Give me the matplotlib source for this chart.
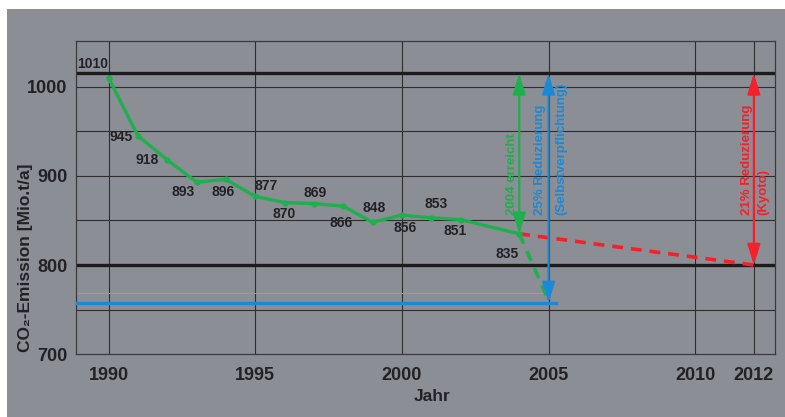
import matplotlib.pyplot as plt
from matplotlib.patches import Rectangle

plt.rcParams['font.family'] = ['Liberation Sans Narrow', 'Liberation Sans', 'DejaVu Sans']

# CO2 emissions in Germany (Mio. t/a)
years = [1990, 1991, 1992, 1993, 1994, 1995, 1996, 1997, 1998, 1999, 2000, 2001, 2002, 2004]
emissions = [1010, 945, 918, 893, 896, 877, 870, 869, 866, 848, 856, 853, 851, 835]

base_level = 1015          # thick reference line at the top
kyoto_year = 2012
kyoto_target = 800         # 21% reduction
self_year = 2005
self_target = 757.5        # 25% reduction
faint_level = 769

xticks = [1990, 1995, 2000, 2005, 2010, 2012]
yticks = [700, 800, 900, 1000]
thin_grid = [750, 850, 900, 950, 1000]

# label offsets (pixels) for the value labels
label_dx = [-16, -17, -20, -13, -3, 11, 0, 1, -2, 2, 3, 5, -5, -12]
label_dy = [14, -1, 0, -10, -13, 10, -11, 11, -17, 14, -13, 14, -11, -20]

bg = '#8b8e94'
dark = '#1c1c1e'
green = '#1eb04e'
blue = '#1a8ad6'
red = '#f5202a'

fig = plt.figure(figsize=(7.85, 4.17), dpi=100, facecolor='white')
fig.patches.append(Rectangle((7 / 785, 0), 1, 1 - 9 / 417, transform=fig.transFigure,
                             facecolor=bg, edgecolor='none', zorder=-10))

ax = fig.add_axes([76 / 785, 1 - 354.2 / 417, 699 / 785, 313.2 / 417])
ax.set_facecolor('none')
ax.set_xlim(1988.89, 2012.72)
ax.set_ylim(700, 1051.3)

for s in ax.spines.values():
    s.set_color('#3a3a3c')
    s.set_linewidth(0.9)

for y in thin_grid:
    ax.axhline(y, color='#2e2e30', lw=0.8, zorder=1)
for x in xticks:
    ax.axvline(x, color='#2e2e30', lw=0.8, zorder=1)
ax.axhline(base_level, color=dark, lw=2.4, zorder=2)
ax.axhline(kyoto_target, color=dark, lw=2.4, zorder=2)

ax.set_xticks(xticks)
ax.set_yticks(yticks)
ax.tick_params(length=0, labelsize=13, labelcolor='#222226')
ax.tick_params(axis='x', pad=9)
ax.tick_params(axis='y', pad=6)
for lab in ax.get_xticklabels() + ax.get_yticklabels():
    lab.set_fontweight('bold')

# faint line and 25% target line
ax.plot([1988.89, 2004.8], [faint_level, faint_level], color='#b39c5c', lw=0.7, zorder=2)
ax.plot([1988.89, 2005.25], [self_target, self_target], color=blue, lw=2.4, zorder=3)

# projections
ax.plot([years[-1], kyoto_year], [emissions[-1], kyoto_target], color=red, lw=2.6,
        ls=(0, (3, 2.2)), zorder=4)
ax.plot([years[-1], self_year], [emissions[-1], self_target + 3], color=green, lw=2.6,
        ls=(0, (3, 2.2)), zorder=4)

# emission curve
ax.plot(years, emissions, color=green, lw=2.4, marker='o', markersize=3.5, zorder=5)

for x, v, dx, dy in zip(years, emissions, label_dx, label_dy):
    ax.annotate(str(v), (x, v), xytext=(dx, dy), textcoords='offset pixels',
                ha='center', va='center', fontsize=10, fontweight='bold', color='#222226',
                zorder=6)

arrow_style = '<|-|>,head_length=0.9,head_width=0.28'
ax.annotate('', xy=(years[-1], base_level), xytext=(years[-1], emissions[-1]),
            arrowprops=dict(arrowstyle=arrow_style, color=green, lw=1.6, mutation_scale=14,
                            shrinkA=0, shrinkB=0), zorder=6)
ax.annotate('', xy=(self_year, base_level), xytext=(self_year, self_target),
            arrowprops=dict(arrowstyle=arrow_style, color=blue, lw=1.6, mutation_scale=14,
                            shrinkA=0, shrinkB=0), zorder=6)
ax.annotate('', xy=(kyoto_year, base_level), xytext=(kyoto_year, kyoto_target),
            arrowprops=dict(arrowstyle=arrow_style, color=red, lw=1.6, mutation_scale=14,
                            shrinkA=0, shrinkB=0), zorder=6)

txt_y = 856
txt_kw = dict(rotation=90, ha='center', va='bottom', fontsize=9.5, fontweight='bold')
ax.text(2003.74, txt_y, '2004 erreicht', color=green, **txt_kw)
ax.text(2004.71, txt_y, '25% Reduzierung', color=blue, **txt_kw)
ax.text(2005.43, txt_y, '(Selbstverpflichtung)', color=blue, **txt_kw)
ax.text(2011.76, txt_y, '21% Reduzierung', color=red, **txt_kw)
ax.text(2012.31, txt_y, '(Kyoto)', color=red, **txt_kw)

fig.text(25.5 / 785, 1 - 258 / 417, 'CO₂-Emission [Mio.t/a]', rotation=90,
         ha='center', va='center', fontsize=12.5, fontweight='bold', color='#222226')
fig.text(432.5 / 785, 1 - 396.7 / 417, 'Jahr', ha='center', va='center',
         fontsize=12.5, fontweight='bold', color='#222226')

fig.savefig('out.png', dpi=100, facecolor='white')
